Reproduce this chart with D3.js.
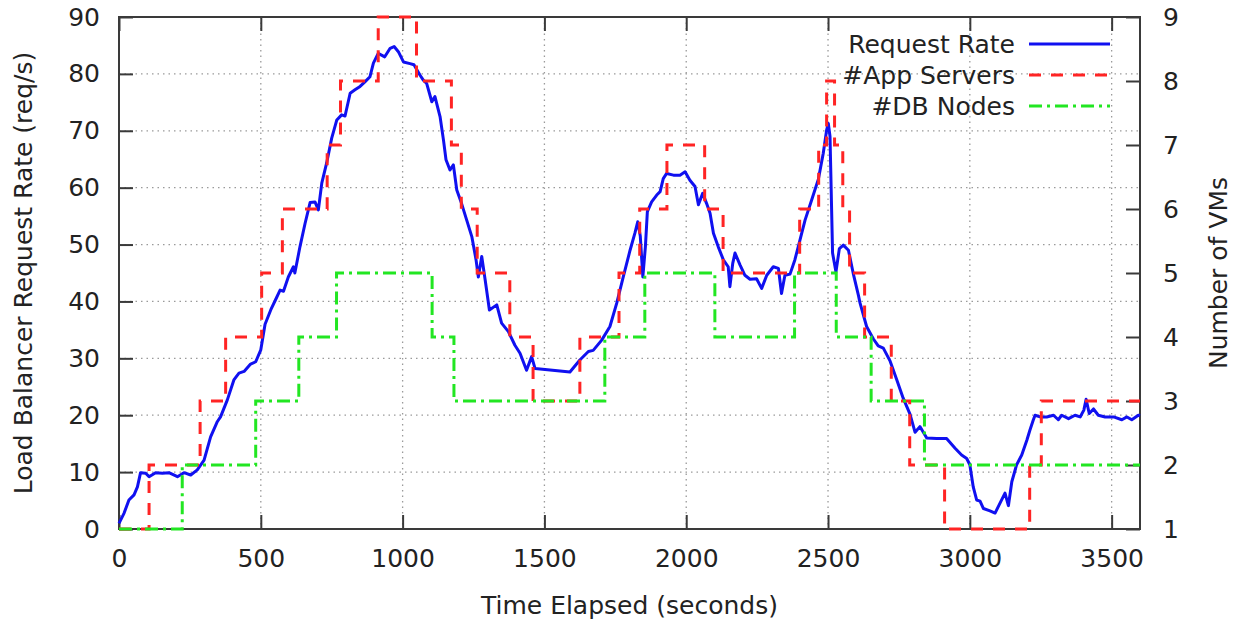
<!DOCTYPE html>
<html>
<head>
<meta charset="utf-8">
<script src="https://cdn.jsdelivr.net/npm/d3@7"></script>
<style>
  html, body { margin: 0; padding: 0; background: #fff; }
  svg { display: block; }
  text { font-family: "DejaVu Sans", sans-serif; fill: #222; }
</style>
</head>
<body>
<svg id="chart" width="1234" height="623"></svg>
<script>
// Request rate seen by the load balancer (req/s) over time (s)
const timeSec = [0, 18, 35, 53, 65, 76, 94, 106, 129, 153, 176, 206, 229, 253, 276, 300, 323, 347, 358, 382,
  405, 423, 441, 464, 482, 500, 515, 535, 552, 568, 580, 597, 615, 620, 638, 656, 674, 691, 703, 715,
  732, 750, 768, 785, 797, 815, 832, 850, 867, 885, 897, 914, 937, 956, 970, 985, 1003, 1026, 1040, 1061,
  1073, 1085, 1103, 1114, 1132, 1144, 1153, 1167, 1179, 1191, 1208, 1226, 1244, 1259, 1267, 1279, 1291, 1306, 1332, 1349,
  1373, 1396, 1414, 1437, 1455, 1467, 1590, 1625, 1655, 1672, 1702, 1731, 1755, 1778, 1802, 1819, 1829, 1838, 1847, 1856,
  1863, 1878, 1896, 1908, 1919, 1931, 1955, 1978, 1996, 2013, 2031, 2043, 2058, 2072, 2084, 2096, 2113, 2131, 2148, 2154,
  2164, 2172, 2190, 2207, 2225, 2248, 2266, 2284, 2307, 2325, 2336, 2348, 2366, 2383, 2401, 2419, 2442, 2466, 2483, 2495,
  2501, 2507, 2516, 2528, 2540, 2554, 2572, 2589, 2607, 2613, 2636, 2660, 2677, 2695, 2719, 2742, 2765, 2789, 2807, 2824,
  2848, 2883, 2918, 2948, 2971, 2989, 3000, 3012, 3024, 3036, 3048, 3071, 3089, 3106, 3124, 3136, 3148, 3165, 3183, 3201,
  3212, 3224, 3230, 3248, 3271, 3295, 3312, 3324, 3348, 3371, 3389, 3402, 3410, 3421, 3436, 3453, 3477, 3507, 3536, 3554,
  3571, 3594, 3600];
const requestRate = [1.0, 2.8, 5.1, 6.0, 7.4, 9.9, 9.8, 9.2, 9.9, 9.8, 9.9, 9.2, 9.9, 9.5, 10.4, 12.1, 16.2, 18.9, 19.7, 22.7,
  26.2, 27.4, 27.7, 29.0, 29.4, 31.5, 36.0, 38.5, 40.3, 42.0, 41.8, 44.3, 46.1, 45.0, 49.6, 53.7, 57.4, 57.5, 56.1, 60.8,
  64.3, 68.7, 71.9, 72.8, 72.6, 76.6, 77.2, 77.8, 78.6, 79.5, 81.9, 83.6, 83.0, 84.5, 84.8, 83.9, 82.1, 81.8, 81.6, 79.8,
  78.9, 78.3, 75.1, 76.0, 72.5, 68.4, 64.9, 63.1, 64.0, 59.6, 57.2, 54.3, 51.4, 47.3, 44.3, 47.9, 43.8, 38.5, 39.4, 36.2,
  34.7, 32.3, 30.9, 27.9, 30.3, 28.2, 27.6, 29.7, 31.2, 31.4, 33.2, 35.6, 39.7, 44.3, 49.0, 52.0, 54.0, 51.5, 44.3, 49.6,
  55.8, 57.5, 58.7, 59.3, 61.6, 62.5, 62.2, 62.2, 62.8, 61.3, 60.2, 57.0, 59.0, 57.2, 55.5, 52.0, 49.6, 47.3, 46.1, 42.6,
  46.7, 48.5, 46.4, 44.6, 43.9, 44.0, 42.3, 44.6, 46.1, 45.8, 41.4, 44.6, 44.8, 47.3, 50.8, 54.3, 57.8, 61.5, 66.0, 70.1,
  71.3, 69.0, 48.5, 45.2, 49.3, 49.9, 49.0, 44.9, 41.1, 39.7, 35.6, 33.4, 32.2, 31.8, 29.5, 26.3, 23.0, 20.2, 17.0, 18.0,
  16.0, 15.9, 15.9, 14.2, 13.0, 12.4, 11.3, 7.4, 5.1, 4.9, 3.6, 3.2, 2.8, 4.5, 6.3, 4.1, 8.3, 11.3, 13.0, 15.6,
  17.4, 19.2, 20.0, 19.7, 19.7, 20.0, 19.2, 20.0, 19.4, 20.0, 19.7, 20.9, 22.8, 20.3, 21.1, 20.0, 19.7, 19.7, 19.2, 19.7,
  19.2, 20.0, 19.9];

// Number of application server VMs (each value holds until the next change time)
const appTimes   = [0, 106, 286, 376, 503, 576, 734, 781, 914, 1049, 1172, 1207, 1263, 1378, 1460, 1625, 1763, 1836, 1932, 2065,
  2130, 2400, 2467, 2495, 2523, 2552, 2576, 2629, 2723, 2788, 2911, 3211, 3252, 3600];
const appServers = [1, 2, 3, 4, 5, 6, 7, 8, 9, 8, 7, 6, 5, 4, 3, 4, 5, 6, 7, 6,
  5, 6, 7, 8, 7, 6, 5, 4, 3, 2, 1, 2, 3, 3];

// Number of database node VMs
const dbTimes = [0, 223, 482, 634, 767, 1104, 1181, 1713, 1854, 2101, 2382, 2529, 2652, 2840, 3600];
const dbNodes = [1, 2, 3, 4, 5, 4, 3, 4, 5, 4, 5, 4, 3, 2, 2];

// Axis ticks
const xTicks  = [0, 500, 1000, 1500, 2000, 2500, 3000, 3500];
const yTicks  = [0, 10, 20, 30, 40, 50, 60, 70, 80, 90];
const y2Ticks = [1, 2, 3, 4, 5, 6, 7, 8, 9];

const seriesNames = ["Request Rate", "#App Servers", "#DB Nodes"];

(function draw() {
  const svg = d3.select("#chart");
  const pLeft = 119, pRight = 1140, pTop = 17, pBottom = 529;

  const x  = d3.scaleLinear().domain([0, 3600]).range([pLeft, pRight]);
  const y  = d3.scaleLinear().domain([0, 90]).range([pBottom, pTop]);
  const y2 = d3.scaleLinear().domain([1, 9]).range([pBottom, pTop]);

  const axisColor = "#3a3a3a";
  const fontSize = 25;

  // grid
  const grid = svg.append("g");
  xTicks.filter(t => t > 0).forEach(t => {
    grid.append("line").attr("x1", x(t)).attr("x2", x(t)).attr("y1", pTop).attr("y2", pBottom)
      .attr("stroke", "#9a9a9a").attr("stroke-width", 1.3).attr("stroke-dasharray", "1.5,4");
  });
  yTicks.filter(t => t > 0 && t < 90).forEach(t => {
    grid.append("line").attr("x1", pLeft).attr("x2", pRight).attr("y1", y(t)).attr("y2", y(t))
      .attr("stroke", "#9a9a9a").attr("stroke-width", 1.3).attr("stroke-dasharray", "1.5,4");
  });

  // axes built with d3 axis generators, inward ticks
  const tickLen = 14;
  function styleAxis(g) {
    g.select(".domain").remove();
    g.selectAll(".tick line").attr("stroke", axisColor).attr("stroke-width", 2);
    g.selectAll(".tick text").attr("font-size", fontSize).attr("fill", "#222")
      .attr("font-family", "DejaVu Sans, sans-serif");
  }
  svg.append("g").attr("transform", `translate(0,${pBottom})`)
    .call(d3.axisBottom(x).tickValues(xTicks).tickSize(-tickLen).tickFormat(d3.format("d")))
    .call(styleAxis)
    .call(g => g.selectAll(".tick text").attr("dy", "0.32em").attr("y", 30));
  svg.append("g").attr("transform", `translate(0,${pTop})`)
    .call(d3.axisTop(x).tickValues(xTicks).tickSize(-tickLen).tickFormat(""))
    .call(styleAxis);
  svg.append("g").attr("transform", `translate(${pLeft},0)`)
    .call(d3.axisLeft(y).tickValues(yTicks).tickSize(-tickLen).tickPadding(19).tickFormat(d3.format("d")))
    .call(styleAxis);
  svg.append("g").attr("transform", `translate(${pRight},0)`)
    .call(d3.axisRight(y2).tickValues(y2Ticks).tickSize(-tickLen).tickPadding(23).tickFormat(d3.format("d")))
    .call(styleAxis);

  // plot border
  svg.append("rect").attr("x", pLeft).attr("y", pTop).attr("width", pRight - pLeft).attr("height", pBottom - pTop)
    .attr("fill", "none").attr("stroke", axisColor).attr("stroke-width", 2);

  // series
  const reqData = timeSec.map((t, i) => [t, requestRate[i]]);
  const appData = appTimes.map((t, i) => [t, appServers[i]]);
  const dbData  = dbTimes.map((t, i) => [t, dbNodes[i]]);

  const blue = "#1010f0", red = "#ff2424", green = "#22e622";
  const dashRed = "12,10", dashGreen = "13,5,3,5";

  svg.append("path").datum(reqData)
    .attr("d", d3.line().x(d => x(d[0])).y(d => y(d[1])))
    .attr("fill", "none").attr("stroke", blue).attr("stroke-width", 3).attr("stroke-linejoin", "round");
  svg.append("path").datum(appData)
    .attr("d", d3.line().curve(d3.curveStepAfter).x(d => x(d[0])).y(d => y2(d[1])))
    .attr("fill", "none").attr("stroke", red).attr("stroke-width", 3).attr("stroke-dasharray", dashRed);
  svg.append("path").datum(dbData)
    .attr("d", d3.line().curve(d3.curveStepAfter).x(d => x(d[0])).y(d => y2(d[1])))
    .attr("fill", "none").attr("stroke", green).attr("stroke-width", 3).attr("stroke-dasharray", dashGreen);

  // legend
  const legend = svg.append("g");
  const legendStyles = [
    { color: blue, dash: null },
    { color: red, dash: dashRed },
    { color: green, dash: dashGreen }
  ];
  seriesNames.forEach((name, i) => {
    const cy = 44 + i * 31;
    legend.append("text").attr("x", 1015).attr("y", cy).attr("dy", "0.36em")
      .attr("text-anchor", "end").attr("font-size", fontSize).text(name);
    const ln = legend.append("line").attr("x1", 1029).attr("x2", 1110).attr("y1", cy).attr("y2", cy)
      .attr("stroke", legendStyles[i].color).attr("stroke-width", 3);
    if (legendStyles[i].dash) ln.attr("stroke-dasharray", legendStyles[i].dash);
  });

  // axis titles
  svg.append("text").attr("x", (pLeft + pRight) / 2).attr("y", 614)
    .attr("text-anchor", "middle").attr("font-size", fontSize).text("Time Elapsed (seconds)");
  svg.append("text").attr("transform", `translate(32,${(pTop + pBottom) / 2}) rotate(-90)`)
    .attr("text-anchor", "middle").attr("font-size", fontSize).text("Load Balancer Request Rate (req/s)");
  svg.append("text").attr("transform", `translate(1227,${(pTop + pBottom) / 2}) rotate(-90)`)
    .attr("text-anchor", "middle").attr("font-size", fontSize).text("Number of VMs");
})();
</script>
</body>
</html>
